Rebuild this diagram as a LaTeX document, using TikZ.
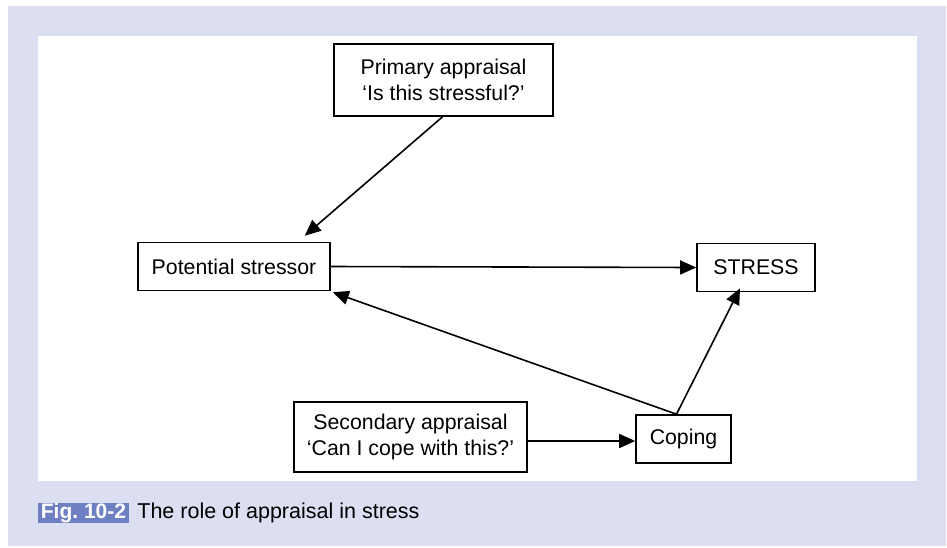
\documentclass[tikz,border=0pt]{standalone}
\usepackage{fontspec}
\setmainfont{Liberation Sans}
\usetikzlibrary{arrows.meta,calc}
\definecolor{lav}{HTML}{DCDFF1}
\definecolor{capblue}{HTML}{6F80C2}
\tikzset{
  box/.style={draw=black, line width=1.6pt, fill=white, align=center, inner sep=0pt,
    font=\fontsize{21.3}{26}\selectfont},
  conn/.style={line width=1.6pt, -{Triangle[length=16pt,width=14pt]}},
}
\begin{document}
\begin{tikzpicture}[x=1pt,y=-1pt]
\useasboundingbox (0,0) rectangle (947,547);
\fill[lav] (8,6) rectangle (946,546);
\fill[white] (38,36) rectangle (917,481);

\node[box, minimum width=219pt, minimum height=72pt] (prim) at (443.5,80) {Primary appraisal\\‘Is this stressful?’};
\node[box, minimum width=192pt, minimum height=48pt] (pot) at (234,266.5) {Potential stressor};
\node[box, minimum width=118pt, minimum height=48pt] (stress) at (756,267.5) {STRESS};
\node[box, minimum width=233pt, minimum height=70pt] (sec) at (410.5,437) {Secondary appraisal\\‘Can I cope with this?’};
\node[box, minimum width=95pt, minimum height=48pt] (cop) at (683.5,439) {Coping};

\draw[conn] ($(prim.south)+(-1,0)$) -- ($(pot.north east)+(-26,-6)$);
\draw[conn] (pot.east) -- (stress.west);
\draw[conn] ($(cop.north)+(-7,0)$) -- ($(pot.south east)+(2,1)$);
\draw[conn] ($(cop.north)+(-7,0)$) -- ($(stress.south)+(-16,-4)$);
\draw[conn] ($(sec.east)+(0,4)$) -- ($(cop.west)+(0,2)$);

\node[fill=capblue, text=white, inner sep=0pt, minimum height=20pt, minimum width=91pt,
  font=\fontsize{21}{25}\selectfont\bfseries] (fig) at (83.5,513) {Fig.\ 10-2};
\node[anchor=west, inner sep=0pt, font=\fontsize{21.5}{25}\selectfont] (cap) at ($(fig.east)+(8,0)$) {The role of appraisal in stress};
\end{tikzpicture}
\end{document}
